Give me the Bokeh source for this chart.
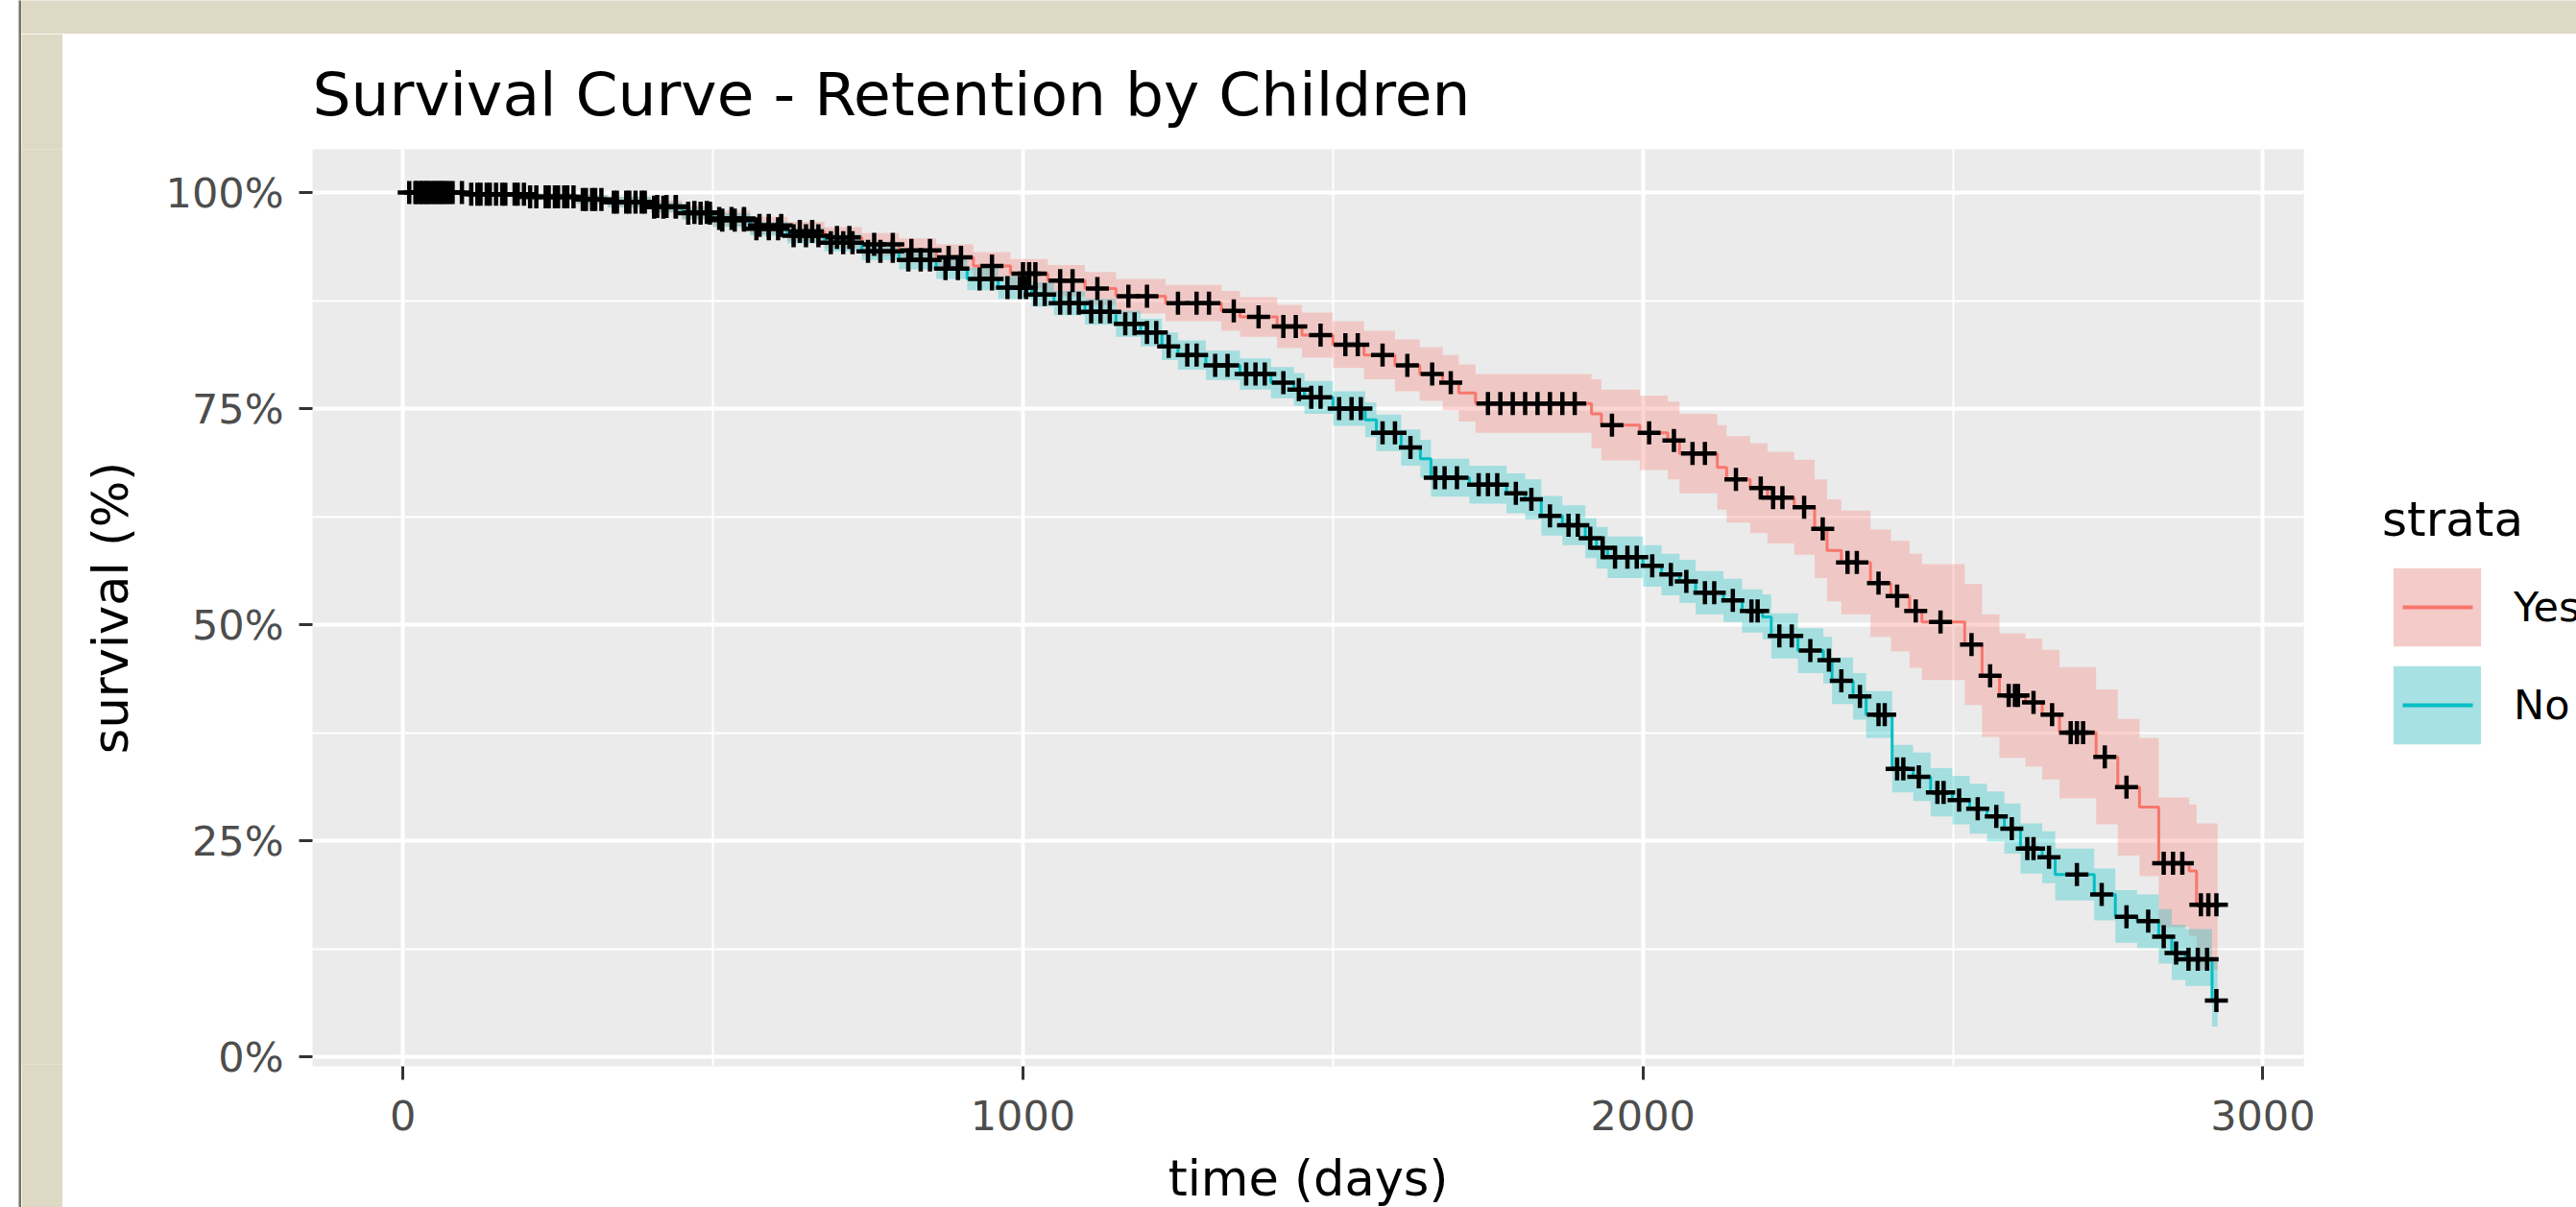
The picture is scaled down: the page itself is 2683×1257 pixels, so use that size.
import numpy as np
from bokeh.plotting import figure
from bokeh.layouts import column, row
from bokeh.models import FixedTicker, Range1d, Legend, LegendItem
from bokeh.embed import file_html
from bokeh.resources import INLINE

FONT = "DejaVu Sans"

# ---------------- data ----------------
strata = ["Yes", "No"]
colors = ["#F8766D", "#00BFC4"]
key_fill = ["#F4CBC8", "#A8E1E3"]

yes_time = [0, 100, 200, 280, 330, 400, 450, 500, 560, 620, 680, 740, 800, 860, 920, 980,
            1040, 1100, 1150, 1230, 1320, 1350, 1410, 1450, 1500, 1550, 1600, 1640, 1677,
            1703, 1730, 1917, 1933, 1995, 2040, 2059, 2120, 2135, 2173, 2201, 2244, 2277,
            2297, 2320, 2367, 2400, 2430, 2450, 2519, 2547, 2575, 2617, 2644, 2672, 2731,
            2766, 2801, 2832, 2881, 2893, 2927]
yes_surv = [1.0, 0.998, 0.995, 0.992, 0.989, 0.984, 0.977, 0.970, 0.962, 0.955, 0.948, 0.940,
            0.933, 0.925, 0.915, 0.906, 0.898, 0.889, 0.880, 0.872, 0.863, 0.856, 0.845, 0.835,
            0.824, 0.812, 0.800, 0.790, 0.780, 0.768, 0.756, 0.744, 0.731, 0.722, 0.713, 0.698,
            0.682, 0.668, 0.658, 0.647, 0.636, 0.611, 0.586, 0.572, 0.548, 0.533, 0.516, 0.503,
            0.477, 0.441, 0.418, 0.410, 0.396, 0.375, 0.347, 0.312, 0.289, 0.224, 0.215, 0.176,
            0.176]
yes_lower = [1.0, 0.996, 0.991, 0.987, 0.983, 0.977, 0.969, 0.961, 0.952, 0.944, 0.936, 0.927,
             0.919, 0.910, 0.899, 0.889, 0.880, 0.870, 0.860, 0.851, 0.840, 0.833, 0.820, 0.809,
             0.797, 0.784, 0.770, 0.759, 0.748, 0.735, 0.722, 0.704, 0.690, 0.679, 0.668, 0.652,
             0.633, 0.618, 0.606, 0.594, 0.581, 0.554, 0.527, 0.512, 0.486, 0.469, 0.450, 0.436,
             0.407, 0.370, 0.346, 0.336, 0.321, 0.299, 0.269, 0.233, 0.209, 0.150, 0.140, 0.100,
             0.100]
yes_upper = [1.0, 1.0, 0.999, 0.997, 0.995, 0.991, 0.985, 0.979, 0.972, 0.966, 0.960, 0.953,
             0.947, 0.940, 0.931, 0.923, 0.916, 0.908, 0.900, 0.893, 0.886, 0.879, 0.870, 0.861,
             0.851, 0.840, 0.830, 0.821, 0.812, 0.801, 0.790, 0.784, 0.772, 0.765, 0.758, 0.744,
             0.731, 0.718, 0.710, 0.700, 0.691, 0.668, 0.645, 0.632, 0.610, 0.597, 0.582, 0.570,
             0.547, 0.512, 0.490, 0.484, 0.471, 0.451, 0.425, 0.391, 0.369, 0.300, 0.292, 0.270,
             0.270]
yes_censor = [20, 28, 35, 42, 50, 58, 66, 75, 120, 135, 150, 165, 185, 205, 230, 245, 260, 275,
              295, 310, 340, 360, 375, 390, 410, 425, 440, 470, 490, 510, 530, 550, 575, 590,
              610, 640, 660, 700, 720, 760, 790, 820, 850, 880, 900, 950, 1000, 1010, 1020, 1060,
              1080, 1120, 1170, 1200, 1250, 1280, 1300, 1340, 1380, 1420, 1440, 1480, 1520, 1540,
              1580, 1620, 1660, 1690, 1750, 1770, 1790, 1810, 1830, 1850, 1870, 1890, 1950, 2010,
              2050, 2080, 2100, 2150, 2190, 2210, 2225, 2260, 2290, 2330, 2345, 2380, 2410, 2440,
              2480, 2530, 2560, 2590, 2600, 2605, 2630, 2660, 2690, 2700, 2710, 2745, 2780, 2840,
              2855, 2870, 2900, 2912, 2925]

no_time = [0, 100, 200, 280, 330, 400, 450, 500, 560, 620, 680, 740, 800, 860, 910, 960, 1014,
           1050, 1100, 1150, 1190, 1224, 1250, 1295, 1350, 1400, 1437, 1454, 1500, 1552, 1570,
           1610, 1641, 1658, 1720, 1780, 1810, 1836, 1870, 1907, 1925, 1943, 2000, 2030, 2059,
           2085, 2130, 2160, 2193, 2207, 2250, 2291, 2305, 2339, 2360, 2402, 2436, 2464, 2499,
           2527, 2555, 2583, 2609, 2644, 2665, 2728, 2762, 2797, 2832, 2853, 2875, 2918, 2927]
no_surv = [1.0, 0.998, 0.995, 0.992, 0.989, 0.983, 0.976, 0.968, 0.958, 0.950, 0.942, 0.932,
           0.922, 0.912, 0.900, 0.890, 0.882, 0.872, 0.862, 0.848, 0.838, 0.822, 0.812, 0.800,
           0.790, 0.780, 0.772, 0.763, 0.750, 0.737, 0.722, 0.705, 0.692, 0.670, 0.662, 0.652,
           0.645, 0.626, 0.615, 0.600, 0.589, 0.578, 0.568, 0.558, 0.550, 0.537, 0.528, 0.516,
           0.509, 0.487, 0.470, 0.459, 0.435, 0.417, 0.396, 0.333, 0.324, 0.306, 0.297, 0.287,
           0.278, 0.264, 0.241, 0.231, 0.211, 0.188, 0.162, 0.157, 0.139, 0.120, 0.113, 0.065,
           0.065]
no_lower = [1.0, 0.996, 0.991, 0.987, 0.983, 0.977, 0.969, 0.960, 0.950, 0.941, 0.932, 0.922,
            0.911, 0.900, 0.887, 0.877, 0.868, 0.858, 0.847, 0.833, 0.822, 0.806, 0.795, 0.783,
            0.772, 0.762, 0.753, 0.744, 0.730, 0.717, 0.701, 0.684, 0.670, 0.648, 0.640, 0.629,
            0.622, 0.603, 0.592, 0.577, 0.565, 0.554, 0.544, 0.534, 0.525, 0.512, 0.503, 0.491,
            0.483, 0.461, 0.444, 0.432, 0.408, 0.390, 0.369, 0.306, 0.296, 0.278, 0.269, 0.258,
            0.249, 0.235, 0.212, 0.201, 0.181, 0.158, 0.132, 0.126, 0.108, 0.089, 0.082, 0.035,
            0.035]
no_upper = [1.0, 1.0, 0.999, 0.997, 0.995, 0.989, 0.983, 0.976, 0.966, 0.959, 0.952, 0.942,
            0.933, 0.924, 0.913, 0.903, 0.896, 0.886, 0.877, 0.863, 0.854, 0.838, 0.829, 0.817,
            0.808, 0.798, 0.791, 0.782, 0.770, 0.757, 0.743, 0.726, 0.714, 0.692, 0.684, 0.675,
            0.668, 0.649, 0.638, 0.623, 0.613, 0.602, 0.592, 0.582, 0.575, 0.562, 0.553, 0.541,
            0.535, 0.513, 0.496, 0.486, 0.462, 0.444, 0.423, 0.361, 0.352, 0.334, 0.325, 0.316,
            0.307, 0.293, 0.270, 0.261, 0.241, 0.218, 0.193, 0.188, 0.171, 0.153, 0.148, 0.110,
            0.110]
no_censor = [10, 22, 30, 38, 46, 54, 62, 70, 80, 95, 110, 125, 140, 160, 180, 195, 215, 235,
             250, 265, 290, 305, 320, 345, 365, 385, 405, 420, 440, 460, 480, 495, 515, 535, 550,
             570, 590, 605, 630, 650, 670, 690, 710, 725, 750, 770, 790, 815, 835, 850, 875, 895,
             930, 950, 975, 995, 1005, 1020, 1035, 1060, 1075, 1090, 1110, 1125, 1140, 1165, 1180,
             1200, 1215, 1235, 1265, 1280, 1310, 1330, 1360, 1375, 1390, 1420, 1445, 1465, 1480,
             1510, 1530, 1545, 1580, 1600, 1625, 1665, 1680, 1700, 1735, 1750, 1765, 1795, 1820,
             1850, 1880, 1895, 1915, 1935, 1955, 1975, 1990, 2015, 2045, 2070, 2100, 2115, 2145,
             2175, 2185, 2220, 2240, 2270, 2300, 2320, 2350, 2380, 2390, 2410, 2420, 2445, 2475,
             2485, 2510, 2540, 2570, 2595, 2620, 2630, 2655, 2700, 2740, 2780, 2815, 2840, 2860,
             2880, 2895, 2910, 2925]

x_ticks = [0, 1000, 2000, 3000]
x_tick_labels = ["0", "1000", "2000", "3000"]
x_minor = [500, 1500, 2500]
y_ticks = [0.0, 0.25, 0.5, 0.75, 1.0]
y_tick_labels = ["0%", "25%", "50%", "75%", "100%"]
y_minor = [0.125, 0.375, 0.625, 0.875]

title_text = "Survival Curve - Retention by Children"
x_title = "time (days)"
y_title = "survival (%)"
legend_title = "strata"

BEIGE = "#DED9C5"
DARK = "#787364"

# ---------------- main figure ----------------
p = figure(frame_width=2074, frame_height=955,
           min_border_left=260, min_border_right=284, min_border_top=120, min_border_bottom=147,
           x_range=Range1d(-146, 3066), y_range=Range1d(-0.011, 1.05),
           output_backend="svg", toolbar_location=None,
           background_fill_color="#EBEBEB", border_fill_color="white",
           outline_line_color=None)

p.title.text = title_text
p.title.align = "left"
p.title.text_font = FONT
p.title.text_font_size = "63px"
p.title.text_font_style = "normal"
p.title.text_color = "black"
p.title.standoff = 42

for ax, ticks, minor, labels in ((p.xaxis, x_ticks, x_minor, x_tick_labels),
                                 (p.yaxis, y_ticks, y_minor, y_tick_labels)):
    ax.ticker = FixedTicker(ticks=ticks, minor_ticks=minor)
    ax.major_label_overrides = {t: l for t, l in zip(ticks, labels)}
    ax.axis_line_color = None
    ax.major_tick_line_color = "#333333"
    ax.major_tick_line_width = 3
    ax.major_tick_out = 14
    ax.major_tick_in = 0
    ax.minor_tick_out = 0
    ax.minor_tick_in = 0
    ax.major_label_text_font = FONT
    ax.major_label_text_font_size = "43px"
    ax.major_label_text_color = "#4D4D4D"
    ax.axis_label_text_font = FONT
    ax.axis_label_text_font_size = "51px"
    ax.axis_label_text_font_style = "normal"
    ax.axis_label_text_color = "black"

p.xaxis.axis_label = x_title
p.yaxis.axis_label = y_title
p.xaxis.major_label_standoff = 21
p.yaxis.major_label_standoff = 16
p.xaxis.axis_label_standoff = 18
p.yaxis.axis_label_standoff = 25

for g in (p.xgrid, p.ygrid):
    g.grid_line_color = "white"
    g.grid_line_width = 4
    g.minor_grid_line_color = "white"
    g.minor_grid_line_width = 2

# confidence bands
for t, lo, hi, c in ((yes_time, yes_lower, yes_upper, colors[0]),
                     (no_time, no_lower, no_upper, colors[1])):
    p.varea_step(x=t, y1=lo, y2=hi, step_mode="after", fill_color=c, fill_alpha=0.3)

# survival curves
for t, s, c in ((yes_time, yes_surv, colors[0]), (no_time, no_surv, colors[1])):
    p.step(x=t, y=s, mode="after", line_color=c, line_width=3)

# censor marks: placed on the curve value at the censoring time
for t, s, cens in ((yes_time, yes_surv, yes_censor), (no_time, no_surv, no_censor)):
    idx = np.searchsorted(np.array(t), np.array(cens), side="right") - 1
    ys = np.array(s)[idx]
    p.scatter(x=cens, y=ys, marker="cross", size=24, line_color="black", line_width=4.5)

# ---------------- legend (proxy glyphs hold no visible data) ----------------
items = []
for name, c, kf in zip(strata, colors, key_fill):
    box = p.quad(left=[np.nan], right=[np.nan], top=[np.nan], bottom=[np.nan],
                 fill_color=kf, fill_alpha=1.0, line_color=None)
    ln = p.line(x=[np.nan], y=[np.nan], line_color=c, line_width=4, line_dash="0 21 73 20")
    items.append(LegendItem(label=name, renderers=[box, ln]))

legend = Legend(items=items, title=legend_title, location=(82, 325),
                title_text_font=FONT, title_text_font_size="50px",
                title_text_font_style="normal", title_text_color="black", title_standoff=11,
                label_text_font=FONT, label_text_font_size="43px", label_text_color="black",
                label_standoff=23, glyph_width=114, glyph_height=102, spacing=-14,
                padding=0, margin=0, border_line_color=None, background_fill_alpha=0.0)
p.add_layout(legend, "right")

# ---------------- outer frame of the screenshot (solid panels) ----------------
def solid(w, h, color):
    f = figure(width=w, height=h, output_backend="svg", toolbar_location=None,
               x_axis_location=None, y_axis_location=None, min_border=0,
               background_fill_color=color, border_fill_color=color, outline_line_color=None)
    f.grid.visible = False
    return f

layout = row(solid(19, 1257, "white"), solid(3, 1257, DARK),
             column(solid(2661, 35, BEIGE),
                    row(solid(43, 1222, BEIGE), p, spacing=0), spacing=0),
             spacing=0)

open("out.html", "w").write(file_html(layout, INLINE))
